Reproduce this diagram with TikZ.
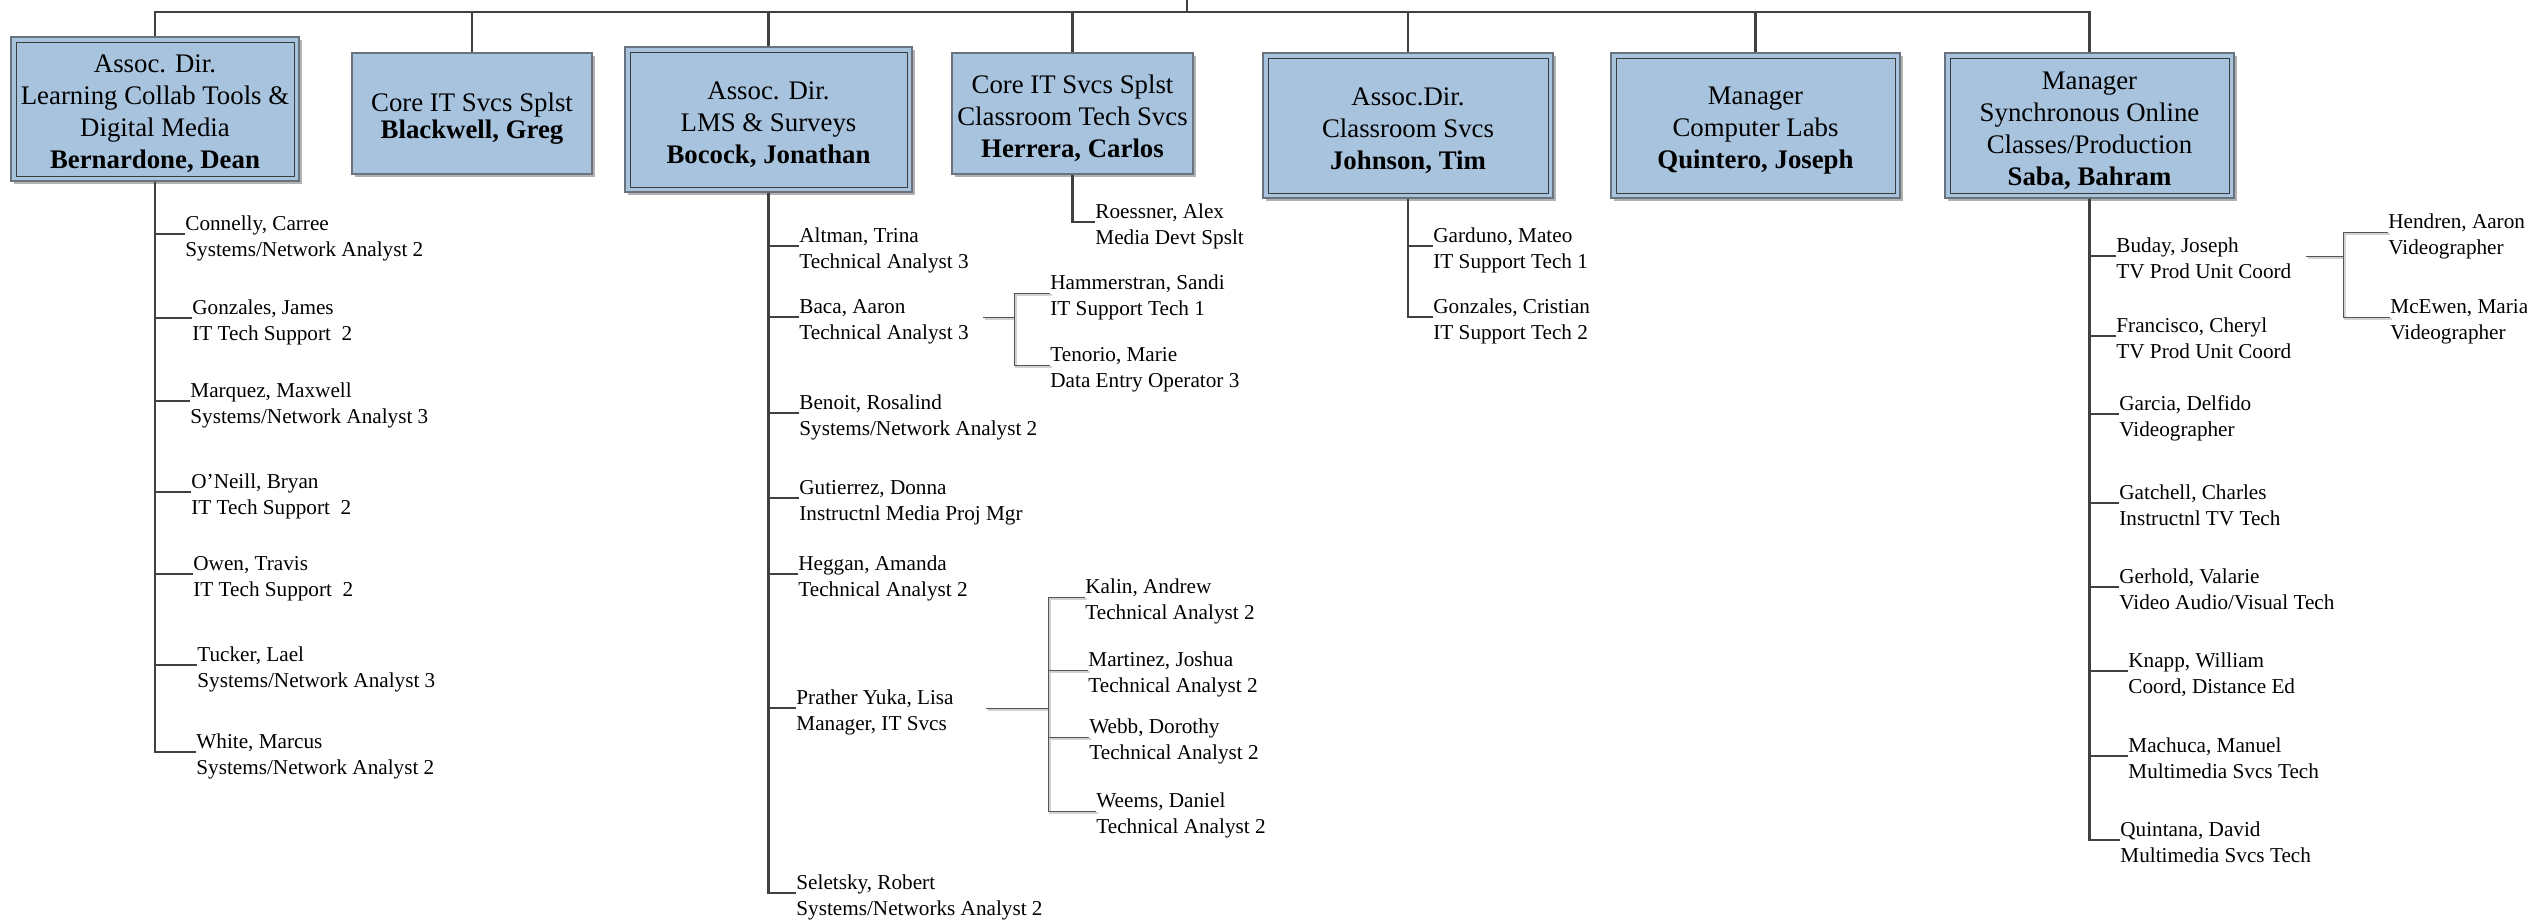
\documentclass[tikz,border=0pt]{standalone}
\usepackage{fontspec}
\setmainfont{Liberation Serif}
\usetikzlibrary{shadows,calc}
\definecolor{boxfill}{RGB}{167,195,222}
\definecolor{boxouter}{RGB}{105,115,125}
\definecolor{boxinner}{RGB}{60,60,60}
\definecolor{conncol}{RGB}{64,64,64}
\definecolor{subcol}{RGB}{85,85,85}
\definecolor{subshadow}{RGB}{210,210,210}
% #2 = base line of the first text line; node base anchor is the last line
\newcommand\orgentry[3]{\node[entry] (#1) at ([yshift=-13pt]#2) {#3};\coordinate (a-#1) at ([yshift=11pt]#1.base west);}
\newcommand\topstrut{\rule{0pt}{13.6pt}}
\newcommand\bigstrut{\rule{0pt}{14.7pt}}
\begin{document}
\begin{tikzpicture}[x=0.5pt,y=-0.5pt,
  orgbox/.style={rectangle, fill=boxfill, draw=boxouter, line width=0.6pt, align=center, inner sep=0pt,
    font=\fontsize{13.4}{16}\selectfont,
    drop shadow={shadow xshift=1.5pt, shadow yshift=-1.5pt, opacity=0.3, fill=black}},
  dblbox/.style={orgbox, path picture={\draw[boxinner, line width=0.5pt]
    ([shift={(2.5pt,-2.5pt)}]path picture bounding box.north west) rectangle
    ([shift={(-2.5pt,2.5pt)}]path picture bounding box.south east);}},
  entry/.style={anchor=base west, align=left, inner sep=0pt, font=\fontsize{10.6}{13}\selectfont},
  conn/.style={draw=conncol, line width=1.2pt},
  subline/.style={draw=subcol, line width=0.5pt,
    preaction={draw=subshadow, line width=1.1pt, transform canvas={shift={(1pt,-1pt)}}}},
]
\fill[white] (0,0) rectangle (2527,923);
\useasboundingbox (0,0) rectangle (2527,923);
\clip (0,0) rectangle (2527,923);

% ---- top level boxes
\node[dblbox, minimum width=144pt, minimum height=72pt] (bern) at (155,109)
  {\topstrut Assoc. Dir.\\Learning Collab Tools \&\\Digital Media\\\textbf{Bernardone, Dean}};
\node[orgbox, minimum width=120pt, minimum height=60.5pt, font=\fontsize{13.4}{13.5}\selectfont] (black) at (472,113.5)
  {\bigstrut Core IT Svcs Splst\\\textbf{Blackwell, Greg}};
\node[dblbox, minimum width=143.5pt, minimum height=72.5pt] (boc) at (768.5,119.5)
  {\topstrut Assoc. Dir.\\LMS \& Surveys\\\textbf{Bocock, Jonathan}};
\node[orgbox, minimum width=120.5pt, minimum height=60.5pt] (herr) at (1072.5,113.5)
  {\topstrut Core IT Svcs Splst\\Classroom Tech Svcs\\\textbf{Herrera, Carlos}};
\node[dblbox, minimum width=145pt, minimum height=72.5pt] (john) at (1408,125.5)
  {\topstrut Assoc.Dir.\\Classroom Svcs\\\textbf{Johnson, Tim}};
\node[dblbox, minimum width=144.5pt, minimum height=72.5pt] (quin) at (1755.5,125.5)
  {\topstrut Manager\\Computer Labs\\\textbf{Quintero, Joseph}};
\node[dblbox, minimum width=144.5pt, minimum height=72.5pt] (saba) at (2089.5,125.5)
  {\topstrut Manager\\Synchronous Online\\Classes/Production\\\textbf{Saba, Bahram}};

% ---- bus
\coordinate (root) at (1187,0);
\coordinate (bus) at (1187,12);
\draw[conn] (root) -- (bus);
\draw[conn] (bern.north) |- (bus) -| (saba.north);
\foreach \b in {black,boc,herr,john,quin} \draw[conn] (\b.north) -- (\b.north |- bus);

% ---- Bernardone list
\orgentry{c1}{185,230}{Connelly, Carree\\Systems/Network Analyst 2}
\orgentry{c2}{192,314}{Gonzales, James\\IT Tech Support\ \ 2}
\orgentry{c3}{190,397}{Marquez, Maxwell\\Systems/Network Analyst 3}
\orgentry{c4}{191,488}{O’Neill, Bryan\\IT Tech Support\ \ 2}
\orgentry{c5}{193,570}{Owen, Travis\\IT Tech Support\ \ 2}
\orgentry{c6}{197,661}{Tucker, Lael\\Systems/Network Analyst 3}
\orgentry{c7}{196,748}{White, Marcus\\Systems/Network Analyst 2}
\foreach \n in {c1,c2,c3,c4,c5,c6,c7} \draw[conn] (bern.south) |- (a-\n);

% ---- Bocock list
\orgentry{b1}{799,242}{Altman, Trina\\Technical Analyst 3}
\orgentry{b2}{799,313}{Baca, Aaron\\Technical Analyst 3}
\orgentry{b3}{799,409}{Benoit, Rosalind\\Systems/Network Analyst 2}
\orgentry{b4}{799,494}{Gutierrez, Donna\\Instructnl Media Proj Mgr}
\orgentry{b5}{798,570}{Heggan, Amanda\\Technical Analyst 2}
\orgentry{b6}{796,704}{Prather Yuka, Lisa\\Manager, IT Svcs}
\orgentry{b7}{796,889}{Seletsky, Robert\\Systems/Networks Analyst 2}
\foreach \n in {b1,b2,b3,b4,b5,b6,b7} \draw[conn] (boc.south) |- (a-\n);

% Baca sub
\orgentry{h1}{1050,289}{Hammerstran, Sandi\\IT Support Tech 1}
\orgentry{h2}{1050,361}{Tenorio, Marie\\Data Entry Operator 3}
\coordinate (bacast) at ([shift={(7pt,11pt)}]b2.base east);
\coordinate (bacax) at (1014,0);
\draw[subline] (bacast) -- (bacax |- bacast);
\draw[subline] (a-h1) -- (bacax |- a-h1) -- (bacax |- a-h2) -- (a-h2);

% Prather sub
\orgentry{k1}{1085,593}{Kalin, Andrew\\Technical Analyst 2}
\orgentry{k2}{1088,666}{Martinez, Joshua\\Technical Analyst 2}
\orgentry{k3}{1089,733}{Webb, Dorothy\\Technical Analyst 2}
\orgentry{k4}{1096,807}{Weems, Daniel\\Technical Analyst 2}
\coordinate (prast) at ([shift={(16pt,11pt)}]b6.base east);
\coordinate (prax) at (1048,0);
\draw[subline] (prast) -- (prax |- prast);
\draw[subline] (a-k1) -- (prax |- a-k1) -- (prax |- a-k4) -- (a-k4);
\draw[subline] (prax |- a-k2) -- (a-k2);
\draw[subline] (prax |- a-k3) -- (a-k3);

% ---- Herrera
\orgentry{r1}{1095,218}{Roessner, Alex\\Media Devt Spslt}
\draw[conn] (herr.south) |- (a-r1);

% ---- Johnson
\orgentry{j1}{1433,242}{Garduno, Mateo\\IT Support Tech 1}
\orgentry{j2}{1433,313}{Gonzales, Cristian\\IT Support Tech 2}
\foreach \n in {j1,j2} \draw[conn] (john.south) |- (a-\n);

% ---- Saba list
\orgentry{s1}{2116,252}{Buday, Joseph\\TV Prod Unit Coord}
\orgentry{s2}{2116,332}{Francisco, Cheryl\\TV Prod Unit Coord}
\orgentry{s3}{2119,410}{Garcia, Delfido\\Videographer}
\orgentry{s4}{2119,499}{Gatchell, Charles\\Instructnl TV Tech}
\orgentry{s5}{2119,583}{Gerhold, Valarie\\Video Audio/Visual Tech}
\orgentry{s6}{2128,667}{Knapp, William\\Coord, Distance Ed}
\orgentry{s7}{2128,752}{Machuca, Manuel\\Multimedia Svcs Tech}
\orgentry{s8}{2120,836}{Quintana, David\\Multimedia Svcs Tech}
\foreach \n in {s1,s2,s3,s4,s5,s6,s7,s8} \draw[conn] (saba.south) |- (a-\n);

% Buday sub
\orgentry{v1}{2388,228}{Hendren, Aaron\\Videographer}
\orgentry{v2}{2390,313}{McEwen, Maria\\Videographer}
\coordinate (budst) at ([shift={(7pt,11pt)}]s1.base east);
\coordinate (budx) at (2343,0);
\draw[subline] (budst) -- (budx |- budst);
\draw[subline] (a-v1) -- (budx |- a-v1) -- (budx |- a-v2) -- (a-v2);
\end{tikzpicture}
\end{document}
